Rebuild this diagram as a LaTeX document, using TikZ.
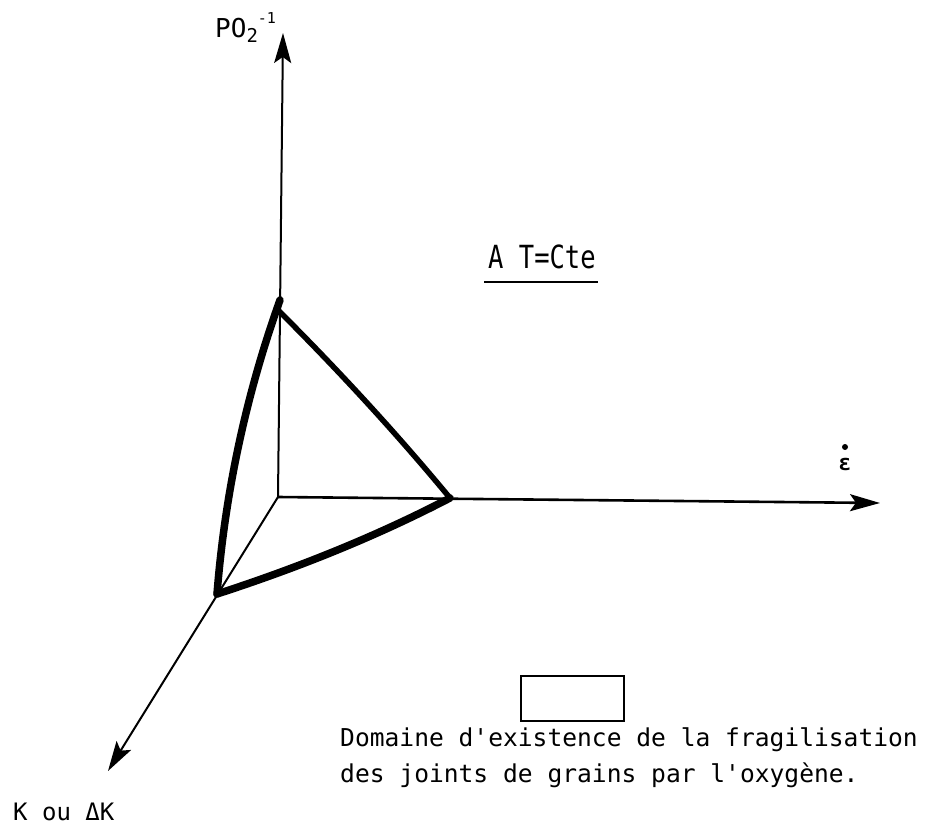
\documentclass[tikz,border=0pt]{standalone}
\usepackage{fontspec}
\newfontfamily\plot{DejaVu Sans Mono}
\usetikzlibrary{arrows.meta}
\begin{document}
\begin{tikzpicture}[x=1pt,y=-1pt,
  axisline/.style={line width=2pt, -{Stealth[length=30pt,width=17pt,inset=6pt]}},
  edge/.style={line width=7.5pt, line cap=round, line join=round},
  thinedge/.style={line width=5.5pt, line cap=round},
  lbl/.style={inner sep=0pt, font=\plot\fontsize{24.6}{30}\selectfont}]
\useasboundingbox (0,0) rectangle (936,826);
% axes
\coordinate (O) at (278,497);
\coordinate (Ytip) at (283,33);
\coordinate (Xtip) at (880,503);
\coordinate (Ztip) at (108,771);
\draw[axisline] (O) -- (Ytip);
\draw[axisline, line width=2.6pt] (O) -- (Xtip);
\draw[axisline] (O) -- (Ztip);
% domain
\coordinate (T) at (279,311);
\coordinate (Ttop) at (280,300);
\coordinate (R) at (450,498);
\coordinate (B) at (217,594);
\draw[thinedge] (T) .. controls (340,372) and (397,434) .. (R);
\draw[edge] (B) .. controls (225,493) and (246,395) .. (Ttop);
\draw[edge] (B) .. controls (297,568) and (375,537) .. (R);
% labels
\node[lbl, anchor=base west] (ylbl) at (215,38) {\fontsize{26}{26}\selectfont PO\raisebox{-5pt}{\fontsize{19}{19}\selectfont 2}\raisebox{14pt}{\fontsize{15}{15}\selectfont -1}};
\node[lbl, anchor=base] (xlbl) at (845,470) {\fontsize{22}{22}\selectfont\bfseries ε};
\fill (845,447) circle (3pt);
\node[lbl, anchor=base west] (zlbl) at (13,820) {\fontsize{24}{24}\selectfont K ou ΔK};
\node[lbl, anchor=base west] (title) at (488,268) {\scalebox{1}[1.25]{\fontsize{25.5}{26}\selectfont A T=Cte}};
\draw[line width=2pt] (484,282) -- (598,282);
\node[draw, line width=2pt, minimum width=103pt, minimum height=45pt, inner sep=0pt, anchor=north west] (legendbox) at (520,675) {};
\node[lbl, anchor=base west] (leg1) at (340,746) {Domaine d'existence de la fragilisation};
\node[lbl, anchor=base west] (leg2) at (340,782) {des joints de grains par l'oxygène.};
\end{tikzpicture}
\end{document}
